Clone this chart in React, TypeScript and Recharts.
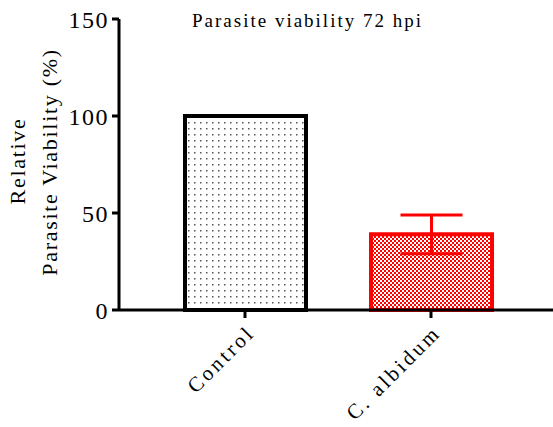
import { BarChart, Bar, XAxis, YAxis, ErrorBar, Cell } from "recharts";

const groups: string[] = ["Control", "C. albidum"];
const viability: number[] = [100, 39];
const sem: (number | null)[] = [null, 10];
const yTicks: number[] = [0, 50, 100, 150];

const fills = ["url(#dots)", "url(#checks)"];
const strokes = ["#000000", "#ff0000"];

const data = groups.map((g, i) => ({ group: g, value: viability[i], err: sem[i] }));

const serif = "'Liberation Serif', 'Times New Roman', serif";

const YTick = (props: any) => {
  const { x, y, payload } = props;
  return (
    <text x={x - 1} y={y} dy={9} textAnchor="end" fontSize={24} letterSpacing={1.5} fontFamily={serif} fill="#000">
      {payload.value}
    </text>
  );
};

// rotated category labels, right end sits just below the tick
const XTick = (props: any) => {
  const { x, y, payload } = props;
  return (
    <g transform={`translate(${x + 11},${y + 14})`}>
      <text x={0} y={0} textAnchor="end" transform="rotate(-45)" fontSize={21} letterSpacing={3} fontFamily={serif} fill="#000">
        {payload.value}
      </text>
    </g>
  );
};

const App = () => {
  return (
    <div style={{ position: "absolute", left: 0, top: 0, width: 553, height: 427, background: "#fff" }}>
      <svg width={0} height={0} style={{ position: "absolute" }}>
        <defs>
          <pattern id="dots" width={6} height={6} patternUnits="userSpaceOnUse">
            <rect width={6} height={6} fill="#fff" />
            <rect x={2} y={2} width={1.5} height={1.5} fill="#555" />
          </pattern>
          <pattern id="checks" width={4} height={4} patternUnits="userSpaceOnUse">
            <rect width={4} height={4} fill="#ff0000" />
            <rect x={0} y={0} width={2} height={2} fill="#fff" />
            <rect x={2} y={2} width={2} height={2} fill="#fff" />
          </pattern>
        </defs>
      </svg>
      <BarChart width={553} height={427} data={data} margin={{ top: 19, right: 0, bottom: 0, left: 0 }}>
        <XAxis
          dataKey="group"
          height={117}
          padding={{ left: 33, right: 29 }}
          axisLine={{ stroke: "#000", strokeWidth: 3 }}
          tickLine={{ stroke: "#000", strokeWidth: 3 }}
          tickSize={8}
          tick={<XTick />}
          interval={0}
        />
        <YAxis
          width={119}
          domain={[0, 150]}
          ticks={yTicks}
          axisLine={{ stroke: "#000", strokeWidth: 3 }}
          tickLine={{ stroke: "#000", strokeWidth: 3 }}
          tickSize={7}
          tick={<YTick />}
        />
        <Bar dataKey="value" barSize={121} strokeWidth={4} isAnimationActive={false}>
          {data.map((d, i) => (
            <Cell key={d.group} fill={fills[i]} stroke={strokes[i]} />
          ))}
          <ErrorBar dataKey="err" width={31} stroke="#ff0000" strokeWidth={3} direction="y" />
        </Bar>
      </BarChart>
      <div
        style={{
          position: "absolute",
          left: 0,
          width: 615,
          top: 10,
          textAlign: "center",
          fontFamily: serif,
          fontSize: 19,
          letterSpacing: 2,
          lineHeight: "22px",
          whiteSpace: "nowrap",
        }}
      >
        Parasite viability 72 hpi
      </div>
      <svg width={80} height={427} style={{ position: "absolute", left: 0, top: 0 }}>
        <text
          transform="translate(25,161) rotate(-90)"
          textAnchor="middle"
          fontSize={22}
          letterSpacing={1.7}
          fontFamily={serif}
          fill="#000"
        >
          Relative
        </text>
        <text
          transform="translate(57,162) rotate(-90)"
          textAnchor="middle"
          fontSize={22}
          letterSpacing={1.7}
          fontFamily={serif}
          fill="#000"
        >
          Parasite Viability (%)
        </text>
      </svg>
    </div>
  );
};

export default App;
